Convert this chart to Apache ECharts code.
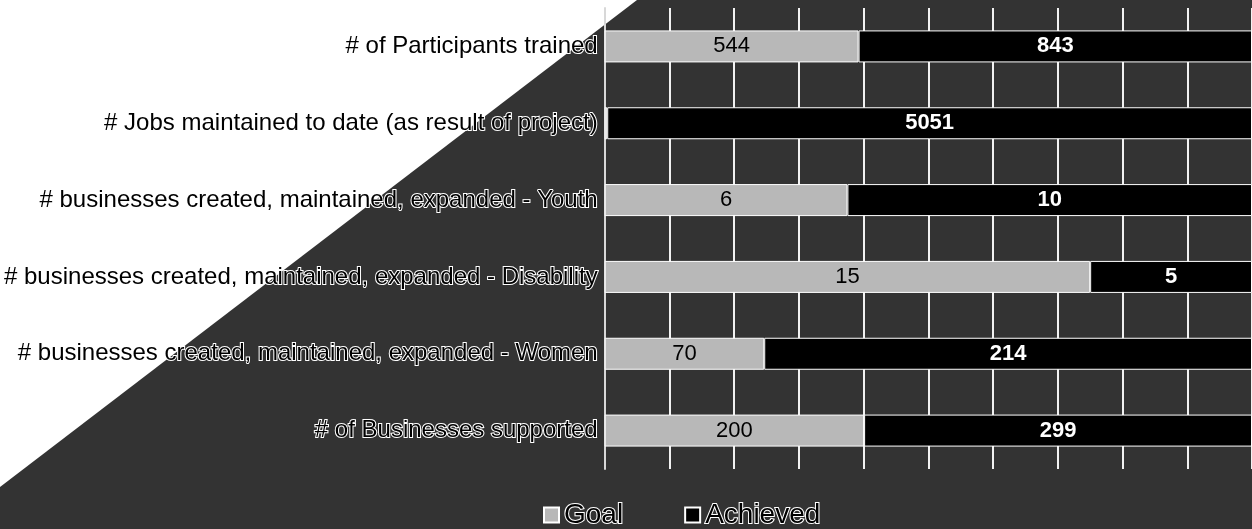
<!DOCTYPE html>
<html>
<head>
<meta charset="utf-8">
<script src="https://cdn.jsdelivr.net/npm/echarts@6/dist/echarts.min.js"></script>
<style>
  html, body { margin: 0; padding: 0; background: #333333; }
  #chart { width: 1252px; height: 529px; }
</style>
</head>
<body>
<div id="chart"></div>
<script>
// Indicators, top to bottom
const categories = [
  '# of Participants trained',
  '# Jobs maintained to date (as result of project)',
  '# businesses created, maintained, expanded - Youth',
  '# businesses created, maintained, expanded - Disability',
  '# businesses created, maintained, expanded - Women',
  '# of Businesses supported'
];
const goalValues = [544, 20, 6, 15, 70, 200];
const achievedValues = [843, 5051, 10, 5, 214, 299];
const seriesNames = ['Goal', 'Achieved'];

const FONT = '"Liberation Sans", Arial, sans-serif';

// 100% stacked: each row is split by its share of goal + achieved
function shares(values, others) {
  return values.map((v, i) => {
    const pct = v / (v + others[i]) * 100;
    return { value: pct, raw: v, label: { show: pct > 2 } };
  });
}

const chart = echarts.init(document.getElementById('chart'));

chart.setOption({
  backgroundColor: '#333333',
  animation: false,
  graphic: [{
    type: 'polygon',
    z: -10,
    silent: true,
    shape: { points: [[0, 0], [637, 0], [0, 487]] },
    style: { fill: '#ffffff' }
  }],
  grid: { left: 604, right: 0, top: 8, bottom: 60, containLabel: false },
  legend: {
    data: seriesNames,
    icon: 'rect',
    left: 538,
    top: 495,
    itemWidth: 15,
    itemHeight: 15,
    itemGap: 60,
    textStyle: {
      fontFamily: FONT, fontSize: 28, color: '#000000',
      textBorderColor: '#ffffff', textBorderWidth: 2
    }
  },
  xAxis: {
    type: 'value',
    min: 0, max: 100, interval: 10,
    axisLabel: { show: false },
    axisLine: { show: false },
    axisTick: { show: false },
    splitLine: { show: true, lineStyle: { color: '#f2f2f2', width: 2 } }
  },
  yAxis: {
    type: 'category',
    inverse: true,
    data: categories,
    axisTick: { show: false },
    axisLine: { show: true, lineStyle: { color: '#d8d8d8', width: 2 } },
    axisLabel: {
      fontFamily: FONT, fontSize: 24, color: '#000000', margin: 7,
      textBorderColor: '#ffffff', textBorderWidth: 2
    }
  },
  series: [
    {
      name: seriesNames[0],
      type: 'bar',
      stack: 'total',
      barWidth: 32,
      data: shares(goalValues, achievedValues),
      itemStyle: { color: '#b8b8b8', borderColor: '#ffffff', borderWidth: 1 },
      label: {
        position: 'inside',
        fontFamily: FONT, fontSize: 22, color: '#000000',
        formatter: p => String(p.data.raw)
      }
    },
    {
      name: seriesNames[1],
      type: 'bar',
      stack: 'total',
      barWidth: 32,
      data: shares(achievedValues, goalValues),
      itemStyle: { color: '#000000', borderColor: '#ffffff', borderWidth: 1 },
      label: {
        position: 'inside',
        fontFamily: FONT, fontSize: 22, fontWeight: 'bold', color: '#ffffff',
        formatter: p => String(p.data.raw)
      }
    }
  ]
});
</script>
</body>
</html>
